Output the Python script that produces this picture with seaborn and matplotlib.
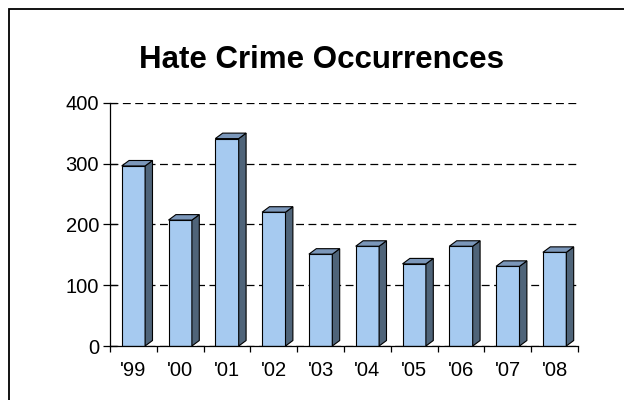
import matplotlib
matplotlib.use("Agg")
import matplotlib.pyplot as plt
from matplotlib.patches import Polygon, Rectangle
import seaborn as sns
import pandas as pd

# Yearly counts
years = ["'99", "'00", "'01", "'02", "'03", "'04", "'05", "'06", "'07", "'08"]
counts = [296, 207, 341, 220, 151, 164, 135, 164, 131, 154]
y_ticks = [0, 100, 200, 300, 400]

front_color = "#A6CAF0"
side_color = "#4F6479"
top_color = "#7B97BA"

sns.set_theme(style="white")
plt.rcParams["font.family"] = ["Liberation Sans", "DejaVu Sans"]

fig = plt.figure(figsize=(6.24, 4.0), dpi=100)
ax = fig.add_axes([110 / 624, 54 / 400, 468 / 624, 243.3 / 400])

df = pd.DataFrame({"year": years, "count": counts})
sns.barplot(data=df, x="year", y="count", ax=ax, color=front_color,
            saturation=1, width=0.5, edgecolor="black", linewidth=0.8,
            zorder=3)

# Extrude each bar into a simple 3D column (right side + top face)
dx, dy = 0.158, 9.0
for patch in list(ax.patches):
    x0 = patch.get_x()
    x1 = x0 + patch.get_width()
    h = patch.get_height()
    side = Polygon([(x1, 0), (x1 + dx, dy), (x1 + dx, h + dy), (x1, h)],
                   closed=True, facecolor=side_color, edgecolor="black",
                   linewidth=0.8, zorder=3)
    top = Polygon([(x0, h), (x0 + dx, h + dy), (x1 + dx, h + dy), (x1, h)],
                  closed=True, facecolor=top_color, edgecolor="black",
                  linewidth=0.8, zorder=3)
    ax.add_patch(side)
    ax.add_patch(top)

ax.set_xlim(-0.5, len(years) - 0.5)
ax.set_ylim(0, 400)
ax.set_yticks(y_ticks)
ax.set_xticks([i - 0.5 for i in range(len(years) + 1)], minor=False)
ax.set_xticklabels([])
ax.set_xticks(range(len(years)), minor=True)
ax.set_xticklabels(years, minor=True)

ax.set_xlabel("")
ax.set_ylabel("")

ax.yaxis.grid(True, color="black", linewidth=0.9,
              linestyle=(0, (6.3, 3.6)), zorder=0)
ax.set_axisbelow(True)

for s in ["top", "right"]:
    ax.spines[s].set_visible(False)
for s in ["left", "bottom"]:
    ax.spines[s].set_color("black")
    ax.spines[s].set_linewidth(0.9)
    ax.spines[s].set_zorder(4)

ax.tick_params(axis="y", direction="inout", length=10, width=0.9,
               color="black", labelsize=14.5, labelcolor="black", pad=3,
               left=True)
ax.tick_params(axis="x", which="major", direction="out", length=4.5,
               width=0.9, color="black", bottom=True)
ax.tick_params(axis="x", which="minor", length=0, labelsize=14.5,
               labelcolor="black", pad=11)

fig.text(321.7 / 624, 1 - 67.7 / 400, "Hate Crime Occurrences",
         ha="center", va="baseline", fontsize=22.5, fontweight="bold",
         color="black")

# Outer chart-area border
fig.patches.append(Rectangle((8.5 / 624, -0.05), 1.2, 1.05 - 9.5 / 400,
                             transform=fig.transFigure, fill=False,
                             edgecolor="black", linewidth=1.3))

fig.savefig("out.png", dpi=100, facecolor="white")
